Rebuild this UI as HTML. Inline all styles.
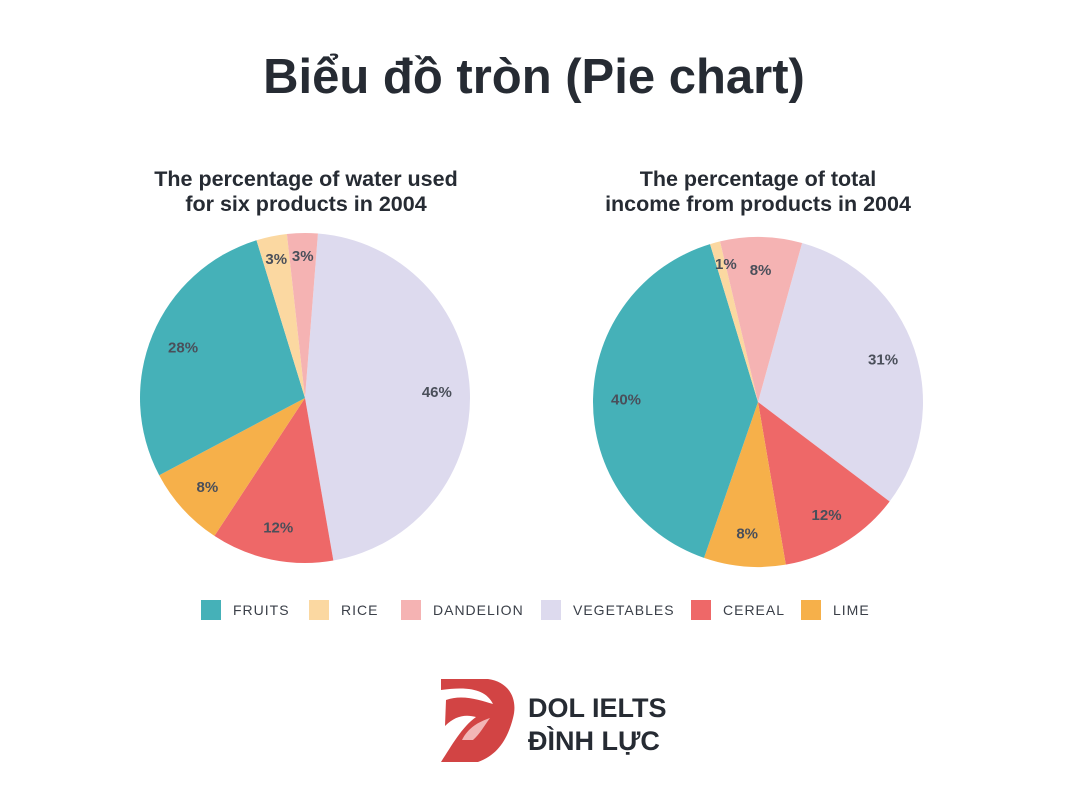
<!DOCTYPE html>
<html><head><meta charset="utf-8"><style>
body{margin:0;background:#fff;width:1069px;height:801px;overflow:hidden;font-family:"Liberation Sans","DejaVu Sans",sans-serif;}
svg{display:block}
</style></head><body>
<svg id="chart" width="1069" height="801" viewBox="0 0 1069 801">
<text x="534" y="93" text-anchor="middle" font-size="49" font-weight="bold" fill="#262b33">Biểu đồ tròn (Pie chart)</text>
<text x="306" y="186" text-anchor="middle" font-size="21.5" font-weight="bold" fill="#262b33">The percentage of water used</text>
<text x="306" y="211" text-anchor="middle" font-size="21.5" font-weight="bold" fill="#262b33">for six products in 2004</text>
<text x="758" y="186" text-anchor="middle" font-size="21.5" font-weight="bold" fill="#262b33">The percentage of total</text>
<text x="758" y="211" text-anchor="middle" font-size="21.5" font-weight="bold" fill="#262b33">income from products in 2004</text>
<g id="pies"></g>
<g id="legend"></g>
<g>
<path d="M441 679 L488 679 C510 682 518 700 513 718 C508 738 498 755 478 762 L441 762 C452 745 462 727 476 717 C465 714 455 716 445 726 L446 700 C462 694 480 700 493 704 C486 690 470 686 441 690 Z" fill="#d24444"/>
<path d="M462 740 C468 728 478 722 490 718 C484 726 480 734 473 740 Z" fill="#f2b6b6"/>
<text x="528" y="717" font-size="27" font-weight="bold" fill="#262b33">DOL IELTS</text>
<text x="528" y="750" font-size="27" font-weight="bold" fill="#262b33">ĐÌNH LỰC</text>
</g>
</svg>
<script>
const categories=["VEGETABLES","CEREAL","LIME","FRUITS","RICE","DANDELION"];
const waterValues=[46,12,8,28,3,3];
const incomeValues=[31,12,8,40,1,8];
const legendOrder=["FRUITS","RICE","DANDELION","VEGETABLES","CEREAL","LIME"];
const colors={FRUITS:"#45b1b8",RICE:"#fbd8a1",DANDELION:"#f5b3b3",VEGETABLES:"#dddaee",CEREAL:"#ee6868",LIME:"#f6b04a"};
const NS="http://www.w3.org/2000/svg";
function pt(cx,cy,r,deg){const a=(deg-90)*Math.PI/180;return [cx+r*Math.cos(a),cy+r*Math.sin(a)];}
function drawPie(vals,cx,cy,r,start,name){
  const g=document.createElementNS(NS,"g");
  
  
  const total=vals.reduce((a,b)=>a+b,0);let ang=start;
  const labels=[];
  vals.forEach((v,i)=>{
    const sweep=v/total*360;const p1=pt(cx,cy,r,ang),p2=pt(cx,cy,r,ang+sweep);
    const path=document.createElementNS(NS,"path");
    path.setAttribute("d",`M${cx},${cy} L${p1[0]},${p1[1]} A${r},${r} 0 ${sweep>180?1:0} 1 ${p2[0]},${p2[1]} Z`);
    path.setAttribute("fill",colors[categories[i]]);
    
    
    g.appendChild(path);
    let lr=r*0.8, la=ang+sweep/2;
    if(v<5){lr=r*0.86;}
    if(v<2){la=ang+sweep/2+2;}
    const lp=pt(cx,cy,lr,la);
    const t=document.createElementNS(NS,"text");
    t.setAttribute("x",lp[0]);t.setAttribute("y",lp[1]+5);t.setAttribute("text-anchor","middle");
    t.setAttribute("font-size","15");t.setAttribute("font-weight","bold");t.setAttribute("fill","#4a4f5a");
    t.textContent=v+"%";
    
    
    labels.push(t);
    ang+=sweep;
  });
  labels.forEach(t=>g.appendChild(t));
  document.getElementById("pies").appendChild(g);
}
drawPie(waterValues,305,398,165,4.5,"water-pie");
drawPie(incomeValues,758,402,165,15.5,"income-pie");
const lx=[201,309,401,541,691,801];
const lg=document.getElementById("legend");
legendOrder.forEach((c,i)=>{
  const r=document.createElementNS(NS,"rect");
  r.setAttribute("x",lx[i]);r.setAttribute("y",600);r.setAttribute("width",20);r.setAttribute("height",20);r.setAttribute("fill",colors[c]);
  
  
  lg.appendChild(r);
  const t=document.createElementNS(NS,"text");
  t.setAttribute("x",lx[i]+32);t.setAttribute("y",615);t.setAttribute("font-size","14");t.setAttribute("letter-spacing","1");t.setAttribute("fill","#3a3f48");
  t.textContent=c;
  
  
  lg.appendChild(t);
});
</script>
</body></html>
